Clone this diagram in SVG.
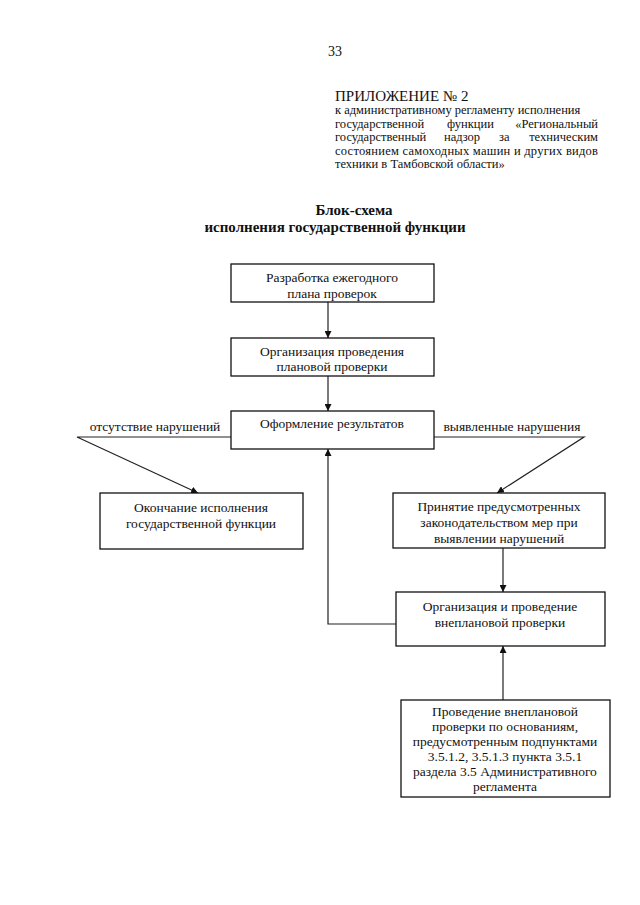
<svg xmlns="http://www.w3.org/2000/svg" width="640" height="905" viewBox="0 0 640 905">
<style>
text{font-family:"Liberation Serif","Times New Roman",serif;fill:#111}
.t{font-size:13.5px;text-anchor:middle}
.h{font-size:12.5px}
.b{font-size:15px;font-weight:bold;text-anchor:middle}
.box{fill:#fff;stroke:#111;stroke-width:1.3}
.c{fill:none;stroke:#222;stroke-width:1.2}
</style>
<defs>
<marker id="ar" viewBox="0 0 10 10" refX="10" refY="5" markerWidth="7" markerHeight="7" orient="auto" markerUnits="userSpaceOnUse">
<path d="M0,0 L10,5 L0,10 z" fill="#111"/>
</marker>
</defs>
<rect width="640" height="905" fill="#fff"/>
<g id="header">
<text x="328" y="56" style="font-size:14px">33</text>
<text x="335" y="101" style="font-size:15px">ПРИЛОЖЕНИЕ № 2</text>
<text class="h" x="335" y="114">к административному регламенту исполнения</text>
<text class="h" y="128"><tspan x="335">государственной</tspan><tspan x="447">функции</tspan><tspan x="598" text-anchor="end">«Региональный</tspan></text>
<text class="h" y="141"><tspan x="335">государственный</tspan><tspan x="444">надзор</tspan><tspan x="499">за</tspan><tspan x="598" text-anchor="end">техническим</tspan></text>
<text class="h" x="335" y="155" textLength="263" lengthAdjust="spacing">состоянием самоходных машин и других видов</text>
<text class="h" x="335" y="168">техники в Тамбовской области»</text>
<text class="b" x="354" y="215">Блок-схема</text>
<text class="b" x="335" y="232">исполнения государственной функции</text>
</g>
<g id="connectors">
<line class="c" x1="328" y1="302" x2="328" y2="338" marker-end="url(#ar)"/>
<line class="c" x1="328" y1="376" x2="328" y2="411" marker-end="url(#ar)"/>
<polyline class="c" points="231,437 77,437 198,493" marker-end="url(#ar)"/>
<polyline class="c" points="434,437 584,437 497,493" marker-end="url(#ar)"/>
<line class="c" x1="503" y1="548" x2="503" y2="592" marker-end="url(#ar)"/>
<polyline class="c" points="396,624 328,624 328,449" marker-end="url(#ar)"/>
<line class="c" x1="503" y1="700" x2="503" y2="646" marker-end="url(#ar)"/>
<text class="t" x="155" y="431">отсутствие нарушений</text>
<text class="t" x="512" y="431">выявленные нарушения</text>
</g>
<g id="n1">
<rect class="box" x="231" y="264" width="203" height="38"/>
<text class="t" x="332" y="282">Разработка ежегодного</text>
<text class="t" x="332" y="298">плана проверок</text>
</g>
<g id="n2">
<rect class="box" x="231" y="338" width="203" height="38"/>
<text class="t" x="332" y="356">Организация проведения</text>
<text class="t" x="332" y="371">плановой проверки</text>
</g>
<g id="n3">
<rect class="box" x="231" y="411" width="203" height="38"/>
<text class="t" x="332" y="428">Оформление результатов</text>
</g>
<g id="n4">
<rect class="box" x="100" y="493" width="203" height="56"/>
<text class="t" x="201" y="512">Окончание исполнения</text>
<text class="t" x="201" y="528">государственной функции</text>
</g>
<g id="n5">
<rect class="box" x="393" y="493" width="212" height="55"/>
<text class="t" x="499" y="511">Принятие предусмотренных</text>
<text class="t" x="499" y="527">законодательством мер при</text>
<text class="t" x="499" y="543">выявлении нарушений</text>
</g>
<g id="n6">
<rect class="box" x="396" y="592" width="209" height="54"/>
<text class="t" x="500" y="611">Организация и проведение</text>
<text class="t" x="500" y="627">внеплановой проверки</text>
</g>
<g id="n7">
<rect class="box" x="401" y="700" width="209" height="97"/>
<text class="t" x="505" y="716">Проведение внеплановой</text>
<text class="t" x="505" y="731">проверки по основаниям,</text>
<text class="t" x="505" y="746">предусмотренным подпунктами</text>
<text class="t" x="505" y="761">3.5.1.2, 3.5.1.3 пункта 3.5.1</text>
<text class="t" x="505" y="776">раздела 3.5 Административного</text>
<text class="t" x="505" y="791">регламента</text>
</g>
</svg>
